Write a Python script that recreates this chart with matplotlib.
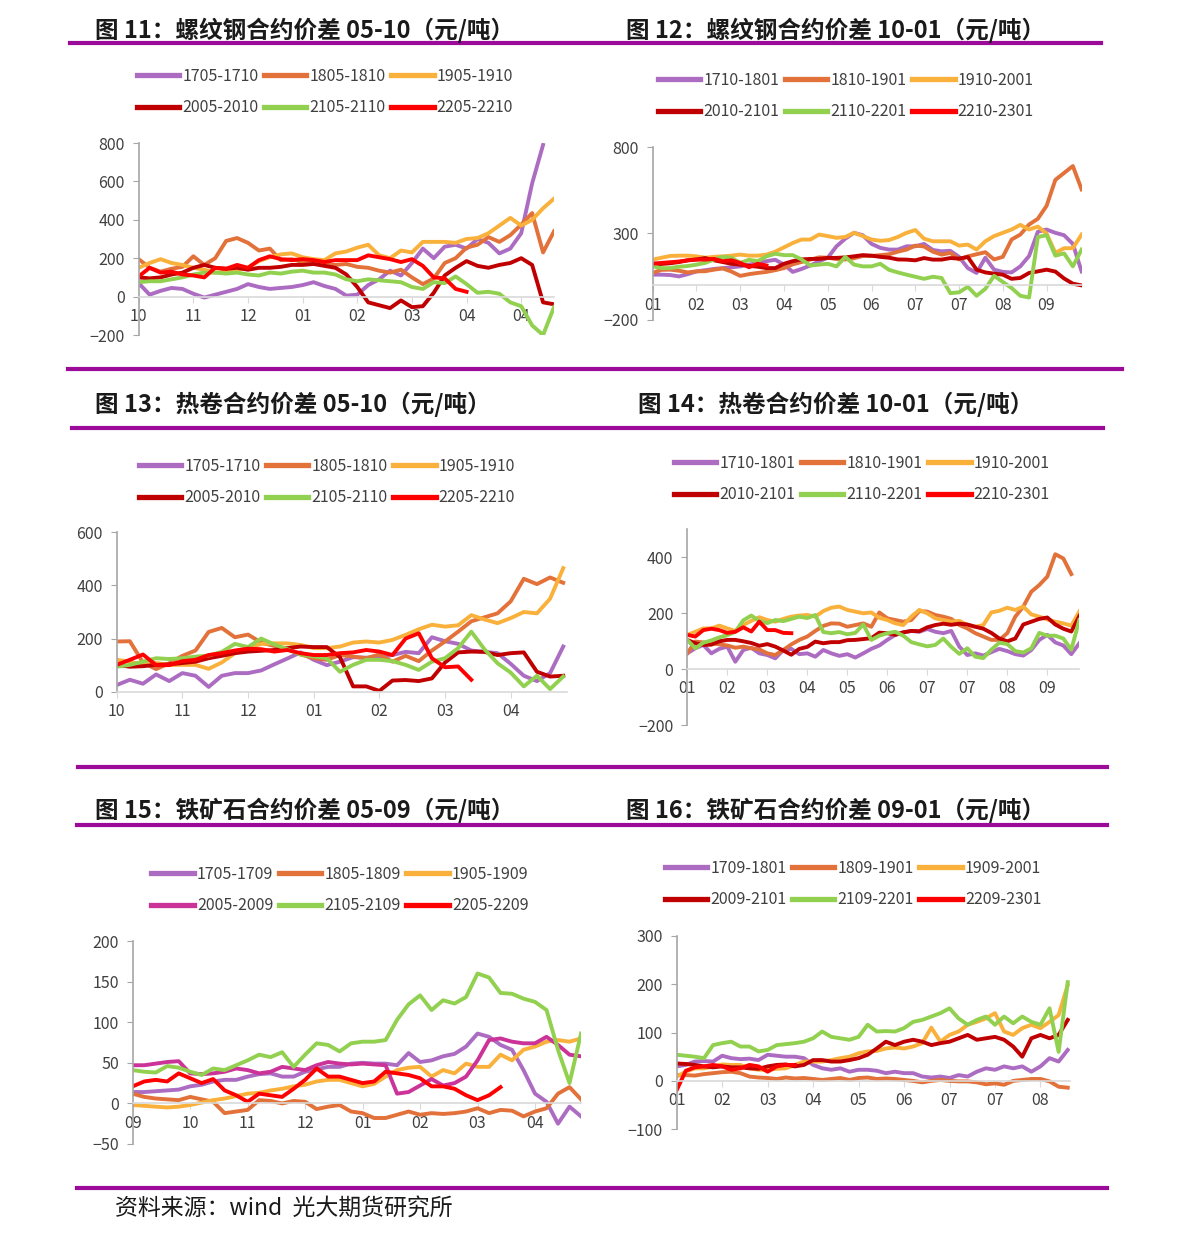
import numpy as np
import matplotlib
matplotlib.use("Agg")
import matplotlib.pyplot as plt
from matplotlib.lines import Line2D

plt.rcParams["font.family"] = ["Noto Sans CJK SC", "DejaVu Sans"]

W, H = 1191, 1242
STEP = 0.2  # months between two readings (x axis is in months)

PURPLE = "#AC6CC2"
ORANGE = "#E2713A"
GOLD = "#F9B13C"
DARKRED = "#C00000"
GREEN = "#92D050"
RED = "#FF0000"
MAGENTA = "#CC3399"
BAR = "#9B0A99"
TXT = "#404040"

# ---------------- 图11 螺纹钢 05-10 ----------------
rb0510_labels = ["1705-1710", "1805-1810", "1905-1910", "2005-2010", "2105-2110", "2205-2210"]
rb0510_months = ["10", "11", "12", "01", "02", "03", "04", "04"]
rb0510_1705 = [70, 10, 30, 45, 40, 15, -5, 10, 25, 40, 65, 50, 40, 45, 50, 60, 75, 55, 40, 5,
               10, 60, 90, 135, 110, 175, 250, 200, 260, 270, 250, 300, 280, 225, 250, 330, 590, 790]
rb0510_1805 = [195, 150, 130, 145, 155, 210, 165, 200, 290, 305, 280, 240, 250, 190, 195, 180, 175, 165, 165, 170,
               155, 150, 135, 125, 140, 100, 65, 95, 175, 200, 255, 270, 310, 285, 320, 375, 435, 230, 340]
rb0510_1905 = [150, 175, 195, 175, 165, 150, 140, 125, 130, 140, 150, 185, 205, 220, 225, 205, 195, 190, 225, 235,
               255, 270, 215, 200, 240, 230, 285, 285, 285, 280, 300, 305, 330, 370, 410, 370, 400, 460, 510]
rb0510_2005 = [100, 95, 100, 115, 125, 150, 165, 150, 145, 150, 140, 150, 150, 155, 165, 165, 170, 160, 150, 115,
               50, -30, -45, -60, -20, -55, -50, 20, 110, 150, 185, 160, 150, 165, 175, 200, 165, -30, -40]
rb0510_2105 = [75, 80, 80, 90, 100, 115, 125, 125, 120, 125, 115, 110, 125, 120, 130, 135, 125, 125, 115, 90,
               80, 90, 85, 80, 75, 50, 40, 75, 70, 105, 65, 20, 25, 15, -30, -50, -150, -200, -55]
rb0510_2205 = [105, 150, 125, 130, 115, 110, 100, 150, 145, 165, 150, 190, 210, 195, 190, 195, 190, 180, 190, 190,
               190, 215, 205, 195, 180, 195, 160, 100, 95, 40, 25]

# ---------------- 图12 螺纹钢 10-01 ----------------
rb1001_labels = ["1710-1801", "1810-1901", "1910-2001", "2010-2101", "2110-2201", "2210-2301"]
rb1001_months = ["01", "02", "03", "04", "05", "06", "07", "07", "08", "09"]
rb1001_1710 = [62, 62, 60, 52, 65, 81, 88, 95, 100, 105, 110, 120, 130, 140, 148, 120, 78, 95, 115, 139,
               160, 226, 270, 304, 290, 240, 217, 207, 207, 226, 226, 240, 205, 197, 200, 165, 100, 72, 160, 91,
               78, 75, 110, 170, 310, 323, 304, 290, 240, 81]
rb1001_1810 = [72, 90, 91, 85, 75, 81, 82, 91, 98, 80, 55, 65, 72, 78, 88, 100, 122, 135, 149, 162,
               160, 152, 150, 157, 170, 170, 175, 180, 195, 207, 230, 225, 195, 178, 188, 150, 168, 180, 192, 150,
               165, 265, 294, 352, 385, 460, 610, 650, 690, 555]
rb1001_1910 = [149, 160, 170, 172, 172, 168, 160, 165, 168, 172, 178, 172, 172, 178, 195, 220, 245, 265, 265, 294,
               285, 275, 280, 304, 285, 265, 258, 262, 280, 304, 320, 270, 255, 255, 255, 230, 236, 207, 255, 285,
               304, 323, 350, 323, 340, 300, 188, 215, 215, 294]
rb1001_2010 = [120, 124, 128, 135, 145, 150, 158, 145, 135, 125, 120, 113, 108, 100, 100, 125, 140, 150, 153, 153,
               159, 159, 162, 168, 175, 172, 165, 160, 150, 149, 145, 158, 149, 149, 158, 155, 164, 91, 75, 68,
               62, 38, 43, 72, 81, 91, 80, 40, 10, 0]
rb1001_2110 = [110, 100, 100, 108, 112, 120, 130, 150, 165, 160, 130, 148, 140, 168, 183, 175, 175, 150, 115, 120,
               125, 110, 165, 120, 110, 110, 125, 90, 75, 62, 50, 38, 50, 43, -45, -40, -8, -60, -20, 55,
               20, -15, -60, -70, 280, 290, 172, 185, 110, 207]
rb1001_2210 = [126, 130, 134, 138, 145, 149, 149, 153, 140, 145, 130, 105, 125, 115]

# ---------------- 图13 热卷 05-10 ----------------
hc0510_labels = ["1705-1710", "1805-1810", "1905-1910", "2005-2010", "2105-2110", "2205-2210"]
hc0510_months = ["10", "11", "12", "01", "02", "03", "04"]
hc0510_1705 = [25, 45, 30, 65, 40, 70, 60, 18, 60, 70, 70, 80, 103, 125, 148, 120, 100, 113, 130, 128,
               130, 138, 150, 145, 205, 190, 180, 155, 150, 145, 105, 60, 40, 70, 170]
hc0510_1805 = [189, 190, 110, 85, 107, 135, 155, 225, 240, 205, 215, 185, 172, 160, 140, 126, 120, 138, 132, 126,
               140, 113, 135, 115, 155, 189, 226, 265, 280, 295, 340, 425, 405, 430, 410]
hc0510_1905 = [120, 113, 101, 108, 101, 101, 101, 86, 110, 145, 165, 180, 182, 182, 176, 164, 164, 170, 185, 189,
               185, 195, 214, 235, 252, 245, 250, 288, 272, 258, 277, 300, 295, 350, 465]
hc0510_2005 = [101, 94, 96, 101, 103, 108, 113, 126, 135, 145, 151, 154, 157, 164, 170, 168, 168, 130, 20, 20,
               3, 42, 44, 40, 50, 110, 148, 151, 150, 138, 145, 148, 75, 57, 60]
hc0510_2105 = [94, 101, 113, 126, 123, 126, 132, 136, 150, 180, 168, 200, 178, 160, 140, 133, 126, 75, 101, 120,
               120, 115, 101, 82, 113, 126, 164, 226, 160, 107, 72, 20, 60, 10, 57]
hc0510_2205 = [101, 120, 140, 100, 100, 115, 120, 138, 145, 155, 162, 160, 151, 157, 145, 138, 138, 145, 148, 157,
               151, 138, 200, 220, 126, 92, 95, 45]

# ---------------- 图14 热卷 10-01 ----------------
hc1001_labels = ["1710-1801", "1810-1901", "1910-2001", "2010-2101", "2110-2201", "2210-2301"]
hc1001_months = ["01", "02", "03", "04", "05", "06", "07", "07", "08", "09"]
hc1001_1710 = [57, 75, 87, 57, 73, 81, 27, 69, 77, 57, 51, 39, 69, 73, 54, 57, 45, 69, 57, 48,
               54, 42, 57, 73, 85, 105, 123, 132, 137, 134, 144, 134, 129, 137, 81, 51, 57, 49, 61, 73,
               65, 54, 49, 69, 105, 123, 96, 85, 54, 93]
hc1001_1810 = [57, 99, 96, 93, 89, 85, 77, 81, 75, 71, 57, 51, 69, 89, 105, 117, 137, 155, 164, 163,
               152, 158, 164, 152, 203, 182, 176, 170, 176, 208, 206, 194, 188, 180, 158, 146, 129, 117, 105, 105,
               129, 188, 224, 277, 301, 331, 411, 396, 340]
hc1001_1910 = [123, 134, 146, 146, 156, 146, 137, 158, 173, 186, 176, 170, 180, 188, 192, 194, 188, 208, 220, 224,
               212, 206, 200, 203, 184, 176, 164, 158, 188, 212, 200, 182, 176, 170, 173, 158, 152, 158, 203, 209,
               220, 212, 224, 196, 188, 178, 170, 164, 156, 206]
hc1001_2010 = [105, 93, 87, 88, 100, 105, 105, 100, 94, 84, 90, 81, 67, 52, 73, 80, 99, 93, 97, 97,
               104, 105, 108, 111, 131, 129, 123, 132, 137, 136, 150, 158, 163, 159, 163, 160, 152, 145, 130, 110,
               100, 110, 160, 170, 180, 185, 160, 145, 135, 190]
hc1001_2110 = [105, 75, 95, 103, 114, 122, 134, 175, 192, 172, 165, 176, 172, 180, 188, 183, 194, 133, 129, 133,
               125, 130, 160, 105, 120, 129, 134, 120, 97, 89, 82, 87, 110, 80, 55, 75, 45, 40, 70, 95,
               90, 65, 60, 75, 130, 120, 120, 110, 70, 176]
hc1001_2210 = [123, 117, 140, 145, 140, 130, 134, 150, 135, 170, 140, 140, 130, 129]

# ---------------- 图15 铁矿石 05-09 ----------------
io0509_labels = ["1705-1709", "1805-1809", "1905-1909", "2005-2009", "2105-2109", "2205-2209"]
io0509_months = ["09", "10", "11", "12", "01", "02", "03", "04"]
io0509_1705 = [14, 14, 15, 16, 17, 21, 23, 27, 29, 29, 33, 36, 37, 33, 33, 39, 42, 45, 45, 49,
               50, 49, 49, 47, 62, 51, 53, 58, 61, 70, 86, 82, 72, 66, 41, 12, 2, -25, -4, -16]
io0509_1805 = [12, 8, 6, 5, 4, 8, 5, 2, -12, -10, -8, 4, 3, 0, 3, 2, -7, -4, -2, -10,
               -12, -18, -18, -14, -10, -14, -12, -13, -12, -10, -6, -12, -8, -9, -16, -10, -6, 12, 20, 5]
io0509_1905 = [-2, -3, -4, -5, -4, -2, 1, 4, 6, 9, 12, 13, 16, 18, 21, 23, 27, 29, 29, 25,
               21, 24, 33, 41, 44, 45, 33, 41, 37, 49, 45, 45, 60, 53, 66, 70, 76, 78, 76, 80]
io0509_2005 = [47, 47, 49, 51, 52, 37, 36, 37, 39, 43, 41, 37, 39, 45, 43, 41, 47, 51, 49, 48,
               49, 48, 47, 12, 14, 22, 30, 22, 25, 33, 53, 78, 80, 76, 74, 74, 82, 72, 60, 58]
io0509_2105 = [41, 39, 38, 46, 44, 39, 35, 43, 41, 47, 53, 60, 57, 63, 45, 60, 74, 72, 64, 74,
               76, 76, 78, 103, 122, 133, 115, 127, 123, 131, 160, 155, 136, 135, 129, 125, 115, 66, 25, 86]
io0509_2205 = [21, 27, 29, 27, 37, 31, 25, 30, 16, 10, 2, 12, 10, 8, 18, 29, 43, 33, 33, 29,
               25, 27, 39, 37, 35, 31, 21, 21, 18, 10, 4, 10, 20]

# ---------------- 图16 铁矿石 09-01 ----------------
io0901_labels = ["1709-1801", "1809-1901", "1909-2001", "2009-2101", "2109-2201", "2209-2301"]
io0901_months = ["01", "02", "03", "04", "05", "06", "07", "07", "08"]
io0901_1709 = [30, 33, 40, 41, 40, 52, 47, 45, 46, 43, 54, 52, 50, 50, 47, 33, 26, 23, 26, 19,
               23, 23, 21, 16, 19, 16, 16, 9, 7, 9, 6, 12, 9, 19, 26, 23, 30, 26, 30, 19,
               30, 47, 40, 64]
io0901_1809 = [12, 12, 11, 14, 16, 18, 19, 16, 9, 7, 6, 4, 7, 5, 6, 4, 2, 4, 6, 2,
               6, 7, 4, 5, 4, 2, 0, -3, 0, 2, 0, -1, -1, -3, -7, -5, -8, 0, 2, 4,
               4, -1, -12, -14]
io0901_1909 = [9, 19, 26, 26, 30, 34, 33, 33, 26, 23, 23, 25, 26, 33, 40, 40, 40, 43, 47, 50,
               57, 61, 62, 67, 69, 67, 71, 78, 110, 81, 95, 102, 116, 122, 129, 140, 102, 95, 109, 116,
               109, 122, 136, 198]
io0901_2009 = [36, 35, 33, 30, 28, 30, 28, 28, 26, 25, 30, 33, 34, 30, 33, 43, 43, 40, 40, 43,
               47, 54, 67, 81, 74, 81, 85, 81, 74, 78, 81, 88, 95, 85, 88, 91, 85, 71, 50, 88,
               95, 88, 95, 126]
io0901_2109 = [54, 52, 50, 47, 74, 78, 81, 71, 71, 61, 64, 74, 76, 78, 81, 88, 102, 91, 88, 85,
               91, 116, 102, 103, 102, 109, 122, 126, 133, 140, 150, 129, 116, 126, 133, 116, 133, 119, 133, 122,
               116, 150, 60, 204]
io0901_2209 = [-19, 21, 28, 30, 33, 30, 23, 26, 33, 30, 19, 30, 33, 33]

fig = plt.figure(figsize=(W / 100, H / 100), dpi=100)


def px_axes(left, top, right, bottom):
    return fig.add_axes([left / W, 1 - bottom / H, (right - left) / W, (bottom - top) / H])


def draw_panel(box, xmax, ylim, yticks, months, labels, series, colors, legend_center):
    ax = px_axes(*box)
    handles = []
    for name, vals, c in zip(labels, series, colors):
        x = np.arange(len(vals)) * STEP
        ln, = ax.plot(x, vals, color=c, lw=2.8, label=name, solid_joinstyle="round")
        handles.append(ln)
    ax.set_xlim(0, xmax)
    ax.set_ylim(*ylim)
    ax.set_yticks(yticks)
    ax.set_xticks(range(len(months)))
    ax.set_xticklabels(months)
    ax.spines["top"].set_visible(False)
    ax.spines["right"].set_visible(False)
    ax.spines["left"].set_color("#A6A6A6")
    ax.spines["left"].set_linewidth(1.2)
    ax.spines["bottom"].set_position(("data", 0))
    ax.spines["bottom"].set_color("#D9D9D9")
    ax.spines["bottom"].set_linewidth(1.2)
    ax.tick_params(axis="y", colors="#A6A6A6", labelcolor=TXT, labelsize=11.5, length=4, pad=6)
    ax.tick_params(axis="x", colors="#D9D9D9", labelcolor=TXT, labelsize=11.5, length=4, pad=4)
    ax.patch.set_alpha(0)

    # legend: two rows of three, filled row by row
    order = [0, 3, 1, 4, 2, 5]
    leg = ax.legend([handles[i] for i in order], [labels[i] for i in order], ncol=3,
                    loc="center", bbox_to_anchor=(legend_center[0] / W, 1 - legend_center[1] / H),
                    bbox_transform=fig.transFigure, frameon=False, fontsize=11.5,
                    handlelength=2.65, handletextpad=0.2, columnspacing=0.35, labelspacing=0.9)
    for h in leg.get_lines():
        h.set_linewidth(3.8)
    for t in leg.get_texts():
        t.set_color(TXT)
    return ax


six = [PURPLE, ORANGE, GOLD, DARKRED, GREEN, RED]
six_ore = [PURPLE, ORANGE, GOLD, MAGENTA, GREEN, RED]

draw_panel((138.7, 143, 554, 335), 7.6, (-200, 800), [-200, 0, 200, 400, 600, 800],
           rb0510_months, rb0510_labels,
           [rb0510_1705, rb0510_1805, rb0510_1905, rb0510_2005, rb0510_2105, rb0510_2205],
           six, (325, 92))

draw_panel((652.7, 147, 1081.6, 320), 9.8, (-200, 800), [-200, 300, 800],
           rb1001_months, rb1001_labels,
           [rb1001_1710, rb1001_1810, rb1001_1910, rb1001_2010, rb1001_2110, rb1001_2210],
           six, (846, 96))

draw_panel((116.7, 532.3, 566.5, 691.7), 6.85, (0, 600), [0, 200, 400, 600],
           hc0510_months, hc0510_labels,
           [hc0510_1705, hc0510_1805, hc0510_1905, hc0510_2005, hc0510_2105, hc0510_2205],
           six, (327, 482))

draw_panel((687.3, 529.3, 1079.3, 725.3), 9.8, (-200, 500), [-200, 0, 200, 400],
           hc1001_months, hc1001_labels,
           [hc1001_1710, hc1001_1810, hc1001_1910, hc1001_2010, hc1001_2110, hc1001_2210],
           six, (862, 479))

draw_panel((132.7, 941, 581, 1144), 7.8, (-50, 200), [-50, 0, 50, 100, 150, 200],
           io0509_months, io0509_labels,
           [io0509_1705, io0509_1805, io0509_1905, io0509_2005, io0509_2105, io0509_2205],
           six_ore, (340, 890))

draw_panel((676.7, 935.7, 1070, 1129.3), 8.65, (-100, 300), [-100, 0, 100, 200, 300],
           io0901_months, io0901_labels,
           [io0901_1709, io0901_1809, io0901_1909, io0901_2009, io0901_2109, io0901_2209],
           six, (853, 884))

# purple separator bars
for x0, x1, y in [(70, 1101, 43), (68, 1122, 369), (72, 1103, 428),
                  (78, 1107, 767), (77, 1107, 825), (77, 1107, 1188)]:
    fig.add_artist(Line2D([x0 / W, x1 / W], [1 - y / H, 1 - y / H], transform=fig.transFigure,
                          color=BAR, lw=3))

titles = [
    (95, 30, "图 11：螺纹钢合约价差 05-10（元/吨）"),
    (626, 30, "图 12：螺纹钢合约价差 10-01（元/吨）"),
    (95, 404, "图 13：热卷合约价差 05-10（元/吨）"),
    (638, 404, "图 14：热卷合约价差 10-01（元/吨）"),
    (95, 810, "图 15：铁矿石合约价差 05-09（元/吨）"),
    (626, 810, "图 16：铁矿石合约价差 09-01（元/吨）"),
]
for x, y, s in titles:
    fig.text(x / W, 1 - y / H, s, fontsize=17, fontweight="bold", color="#1A1A1A",
             ha="left", va="center")

fig.text(115 / W, 1 - 1209 / H, "资料来源：wind  光大期货研究所", fontsize=16.5, color="#1A1A1A",
         ha="left", va="center")

fig.savefig("out.png", dpi=100)
